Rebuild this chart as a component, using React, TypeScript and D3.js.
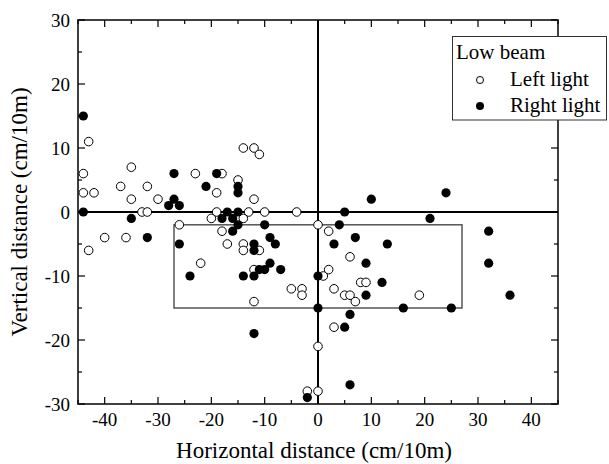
import React, { useEffect, useRef } from 'react';
import * as d3 from 'd3';

// Low beam aim points, [horizontal, vertical] in cm/10m
const leftLight: [number, number][] = [
  [-44, 6], [-44, 3], [-43, 11], [-43, -6], [-42, 3], [-40, -4], [-37, 4], [-36, -4],
  [-35, 7], [-35, 2], [-33, 0], [-32, 4], [-32, 0], [-30, 2], [-26, -2], [-23, 6],
  [-22, -8], [-20, -1], [-19, 3], [-19, 0], [-18, 6], [-18, -3], [-17, -5], [-15, 5],
  [-14, 10], [-14, -5], [-14, -6], [-14, -1], [-13, 0], [-12, 10], [-12, 2], [-12, -9],
  [-12, -14], [-11, 9], [-11, -6], [-10, 0], [-5, -12], [-4, 0], [-3, -12], [-3, -13],
  [-2, -28], [0, -2], [0, -21], [0, -28], [1, -10], [2, -3], [2, -9], [3, -12],
  [3, -18], [5, -13], [6, -7], [6, -13], [7, -14], [8, -11], [9, -11], [19, -13],
];

const rightLight: [number, number][] = [
  [-44, 15], [-44, 0], [-35, -1], [-32, -4], [-28, 1], [-27, 6], [-27, 2], [-26, 1],
  [-26, -5], [-24, -10], [-21, 4], [-19, 6], [-18, -1], [-17, 0], [-16, -1], [-16, -3],
  [-15, 4], [-15, 3], [-15, 0], [-15, -2], [-14, -10], [-12, -5], [-12, -6], [-12, -10],
  [-12, -19], [-10, -2], [-10, -9], [-11, -9], [-9, -4], [-9, -8], [-8, -5], [-7, -9],
  [-2, -29], [0, -10], [0, -15], [3, -5], [4, -2], [5, 0], [5, -18], [6, -16],
  [6, -27], [7, -4], [9, -8], [9, -13], [10, 2], [12, -11], [13, -5], [16, -15],
  [21, -1], [24, 3], [25, -15], [32, -3], [32, -8], [36, -13],
];

// target zone: x from -27 to 27, y from -15 to -2
const zoneX = [-27, 27];
const zoneY = [-15, -2];

const xTicks = [-40, -30, -20, -10, 0, 10, 20, 30, 40];
const yTicks = [-30, -20, -10, 0, 10, 20, 30];

const FONT = '"Liberation Serif", "Times New Roman", serif';

const App = () => {
  const svgRef = useRef<SVGSVGElement>(null);

  useEffect(() => {
    const svg = d3.select(svgRef.current);
    svg.selectAll('*').remove();

    const margin = { top: 20, right: 51, bottom: 60, left: 78 };
    const width = 609 - margin.left - margin.right;
    const height = 464 - margin.top - margin.bottom;

    const x = d3.scaleLinear().domain([-45, 45]).range([0, width]);
    const y = d3.scaleLinear().domain([-30, 30]).range([height, 0]);

    const g = svg.append('g').attr('transform', `translate(${margin.left},${margin.top})`);

    // inward ticks on all four sides, minor every 5
    const xMinor = d3.range(-45, 46, 5).filter(v => v % 10 !== 0);
    const yMinor = d3.range(-25, 26, 10);

    const tickG = g.append('g').attr('stroke', '#000').attr('stroke-width', 1.2);
    [0, height].forEach(yy => {
      const dir = yy === 0 ? 1 : -1;
      xTicks.forEach(v => tickG.append('line')
        .attr('x1', x(v)).attr('x2', x(v)).attr('y1', yy).attr('y2', yy + dir * 7));
      xMinor.forEach(v => tickG.append('line')
        .attr('x1', x(v)).attr('x2', x(v)).attr('y1', yy).attr('y2', yy + dir * 4));
    });
    [0, width].forEach(xx => {
      const dir = xx === 0 ? 1 : -1;
      yTicks.forEach(v => tickG.append('line')
        .attr('y1', y(v)).attr('y2', y(v)).attr('x1', xx).attr('x2', xx + dir * 7));
      yMinor.forEach(v => tickG.append('line')
        .attr('y1', y(v)).attr('y2', y(v)).attr('x1', xx).attr('x2', xx + dir * 4));
    });

    // tick labels
    g.selectAll('.xlab')
      .data(xTicks)
      .enter().append('text')
      .attr('x', d => x(d))
      .attr('y', height + 22)
      .attr('text-anchor', 'middle')
      .style('font-family', FONT)
      .style('font-size', '19px')
      .text(d => d);

    g.selectAll('.ylab')
      .data(yTicks)
      .enter().append('text')
      .attr('x', -8)
      .attr('y', d => y(d))
      .attr('dy', '0.35em')
      .attr('text-anchor', 'end')
      .style('font-family', FONT)
      .style('font-size', '19px')
      .text(d => d);

    // zero lines
    g.append('line')
      .attr('x1', 0).attr('x2', width).attr('y1', y(0)).attr('y2', y(0))
      .attr('stroke', '#000').attr('stroke-width', 2);
    g.append('line')
      .attr('x1', x(0)).attr('x2', x(0)).attr('y1', 0).attr('y2', height)
      .attr('stroke', '#000').attr('stroke-width', 2);

    // target zone box
    g.append('rect')
      .attr('x', x(zoneX[0]))
      .attr('y', y(zoneY[1]))
      .attr('width', x(zoneX[1]) - x(zoneX[0]))
      .attr('height', y(zoneY[0]) - y(zoneY[1]))
      .attr('fill', 'none')
      .attr('stroke', '#555')
      .attr('stroke-width', 1.5);

    // frame
    g.append('rect')
      .attr('width', width).attr('height', height)
      .attr('fill', 'none').attr('stroke', '#000').attr('stroke-width', 1.5);

    g.selectAll('.dot-left')
      .data(leftLight)
      .enter().append('circle')
      .attr('cx', d => x(d[0]))
      .attr('cy', d => y(d[1]))
      .attr('r', 4.3)
      .attr('fill', '#fff')
      .attr('stroke', '#000')
      .attr('stroke-width', 1);

    g.selectAll('.dot-right')
      .data(rightLight)
      .enter().append('circle')
      .attr('cx', d => x(d[0]))
      .attr('cy', d => y(d[1]))
      .attr('r', 4.6)
      .attr('fill', '#000');

    // legend
    const legend = svg.append('g');
    legend.append('rect')
      .attr('x', 452.5).attr('y', 36.5).attr('width', 154).attr('height', 83.5)
      .attr('fill', '#fff').attr('stroke', '#333').attr('stroke-width', 1);
    legend.append('text')
      .attr('x', 456).attr('y', 59)
      .style('font-family', FONT).style('font-size', '21px')
      .text('Low beam');
    legend.append('circle')
      .attr('cx', 480).attr('cy', 80).attr('r', 3.5)
      .attr('fill', '#fff').attr('stroke', '#000').attr('stroke-width', 1);
    legend.append('text')
      .attr('x', 510).attr('y', 86)
      .style('font-family', FONT).style('font-size', '21px')
      .text('Left light');
    legend.append('circle')
      .attr('cx', 480).attr('cy', 106).attr('r', 4)
      .attr('fill', '#000');
    legend.append('text')
      .attr('x', 510).attr('y', 112)
      .style('font-family', FONT).style('font-size', '21px')
      .text('Right light');

    // axis titles
    svg.append('text')
      .attr('x', margin.left + x(0) - 4)
      .attr('y', 458)
      .attr('text-anchor', 'middle')
      .style('font-family', FONT)
      .style('font-size', '23px')
      .text('Horizontal distance (cm/10m)');

    svg.append('text')
      .attr('transform', `translate(27,${margin.top + y(0)}) rotate(-90)`)
      .attr('text-anchor', 'middle')
      .style('font-family', FONT)
      .style('font-size', '23px')
      .text('Vertical distance (cm/10m)');
  }, []);

  return (
    <svg ref={svgRef} width={609} height={464}
      style={{ position: 'absolute', left: 0, top: 0, background: '#fff' }} />
  );
};

export default App;
